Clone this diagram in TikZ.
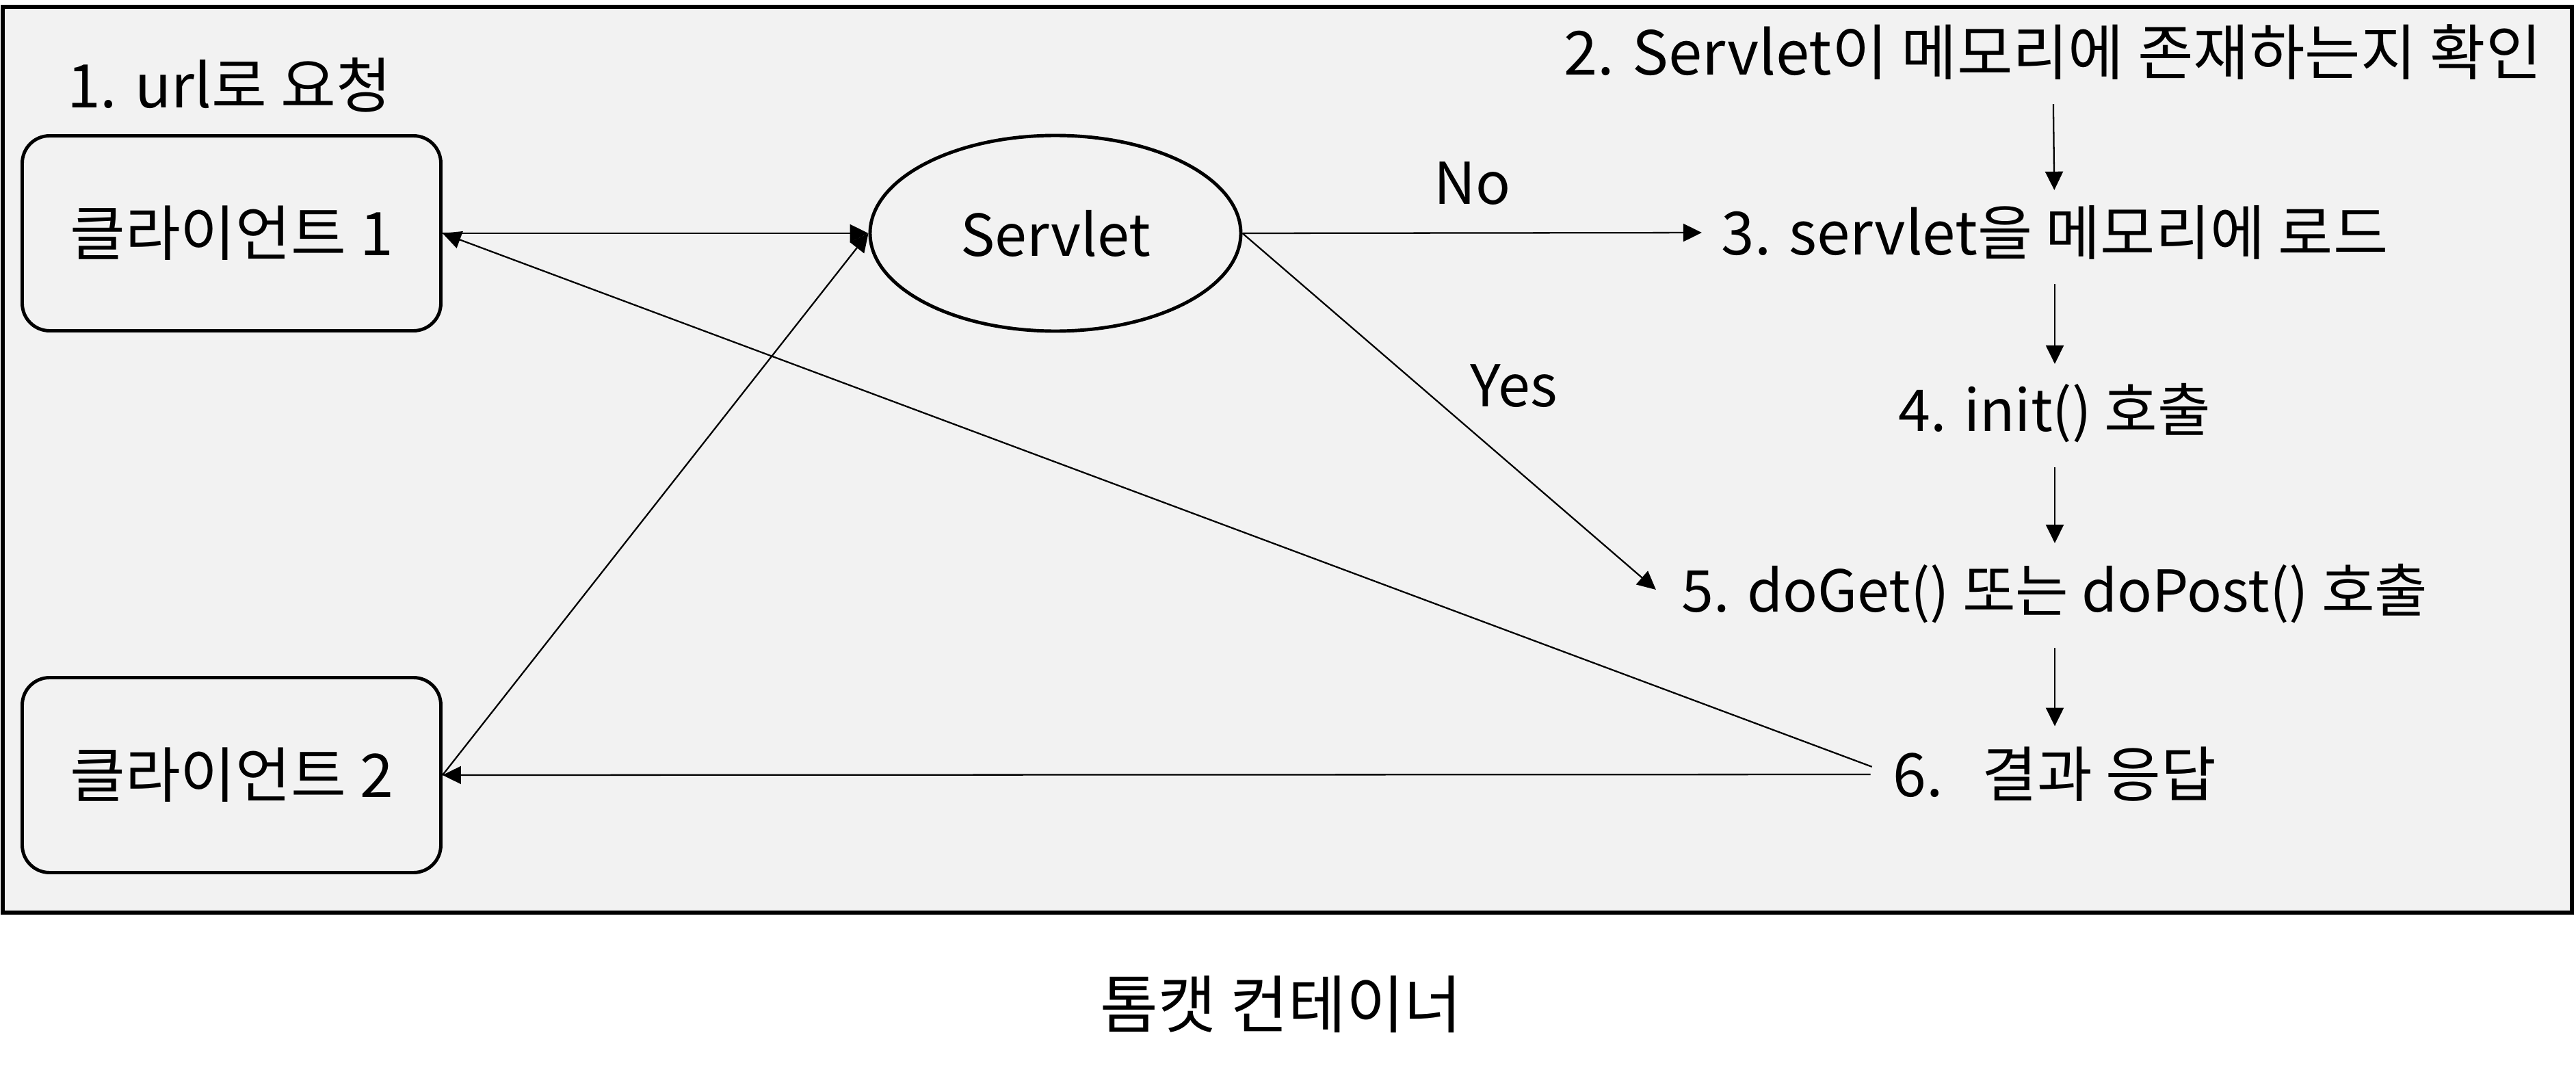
\documentclass[tikz,border=0pt]{standalone}
\usepackage{fontspec}
\setmainfont{Noto Sans CJK KR}
\usepackage{tikz}
\usetikzlibrary{arrows.meta,shapes,positioning,calc}
\definecolor{framegray}{HTML}{F2F2F2}
\newcommand{\txtsize}[1]{\fontsize{#1}{1.2\dimexpr#1\relax}\selectfont}
\tikzstyle{Mytext} = [text centered, inner sep=0pt]
\tikzset{
    client/.style={
        rectangle,
        rounded corners=0.4cm,
        line width=1.4pt,
        draw=black,
        minimum width=6.12cm,
        minimum height=2.85cm,
        font=\txtsize{25pt},
    },
    servlet/.style={
        ellipse,
        line width=1.4pt,
        draw=black,
        minimum width=5.42cm,
        minimum height=2.86cm,
    },
    flow/.style={
        -{Triangle[length=0.27cm,width=0.26cm]},
        line width=0.65pt,
    },
}

\begin{document}
\begin{tikzpicture}[
    node distance=2.64cm,
    on grid,
    font=\txtsize{24pt}]

\useasboundingbox (0,0) rectangle (37.66,15.66);

% Tomcat container
\draw [line width=1.7pt, fill=framegray] (0.04,2.32) rectangle (37.60,15.56);
\node [Mytext, font=\txtsize{26.2pt}] (caption) at (18.73,0.98) {톰캣 컨테이너};

% Clients
\node [client] (c_1) at (3.385,12.25) {클라이언트 1};
\node [client] (c_2) at (3.385,4.33) {클라이언트 2};
\node [Mytext, font=\txtsize{25pt}] (req) at (3.35,14.42) {1. url로 요청};

% Servlet
\node [servlet] (srv) at (15.43,12.25) {Servlet};

% Steps
\node [Mytext, font=\txtsize{25.2pt}] (s_2) at (30.01,14.90) {2. Servlet이 메모리에 존재하는지 확인};
\node [Mytext, font=\txtsize{24.8pt}] (s_3) [below=of s_2, xshift=0.03cm] {3. servlet을 메모리에 로드};
\node [Mytext] (s_4) [below=of s_3] {4. init() 호출};
\node [Mytext] (s_5) [below=of s_4] {5. doGet() 또는 doPost() 호출};
\node [Mytext, font=\txtsize{25pt}] (s_6) [below=of s_5] {6.\hspace{0.65em}결과 응답};

% Transitions
\path [flow]
    (s_2) edge [shorten <=0.35cm, shorten >=0.22cm] (s_3)
    (s_3) edge [shorten <=0.35cm, shorten >=0.28cm] (s_4)
    (s_4) edge [shorten <=0.35cm, shorten >=0.3cm] (s_5)
    (s_5) edge [shorten <=0.35cm, shorten >=0.3cm] (s_6)
    (c_1.east) edge (srv.west)
    (c_2.east) edge (srv.west)
    (srv.east) edge [shorten >=0.28cm]
        node [above=0.4cm, xshift=-0.14cm, inner sep=0pt] {No} (s_3.west)
    (srv.east) edge
        node [above right=0.05cm and 0.3cm, inner sep=0pt] {Yes} ([xshift=-0.37cm, yshift=0.06cm]s_5.west)
    (s_6.west) edge [shorten <=0.32cm] (c_1.east)
    (s_6.west) edge [shorten <=0.32cm] (c_2.east);

\end{tikzpicture}
\end{document}
